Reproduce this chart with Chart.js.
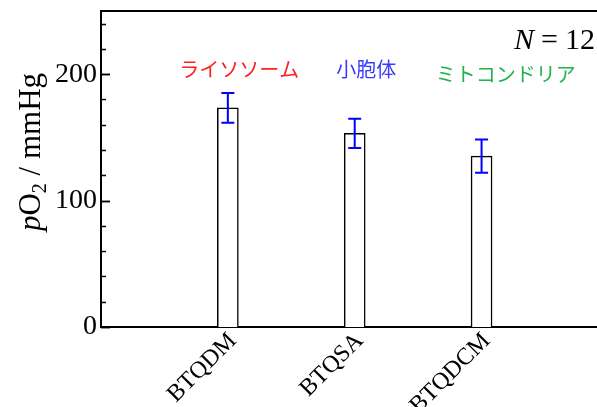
<!DOCTYPE html>
<html>
<head>
<meta charset="utf-8">
<script src="https://cdn.jsdelivr.net/npm/chart.js@4/dist/chart.umd.min.js"></script>
<style>
  html, body { margin: 0; padding: 0; background: #fff; }
  canvas { display: block; }
</style>
</head>
<body>
<canvas id="c" width="597" height="407"></canvas>
<script>
// Samples and measured oxygen partial pressure (mean ± SD)
const categories = ['BTQDM', 'BTQSA', 'BTQDCM'];
const values = [173.4, 153.2, 135.2];
const errors = [11.8, 11.6, 13.2];
const yTickLabels = [0, 100, 200];

// Organelle annotations, placed in data coordinates
const notes = [
  { text: 'ライソソーム', color: '#ff2020', x: 1.09, y: 203.5 },
  { text: '小胞体', color: '#3a3aff', x: 2.09, y: 203.5 },
  { text: 'ミトコンドリア', color: '#22b24c', x: 3.19, y: 199.5 }
];

const SERIF = '"Liberation Serif", "Times New Roman", serif';
const CJK = '"Noto Sans CJK JP", "Noto Sans CJK SC", sans-serif';

function drawRuns(ctx, runs, x, y) {
  let cx = x;
  for (const r of runs) {
    ctx.font = r.font;
    ctx.fillText(r.t, cx, y + (r.dy || 0));
    cx += ctx.measureText(r.t).width + (r.gap || 0);
  }
}
function runsWidth(ctx, runs) {
  let w = 0;
  for (const r of runs) { ctx.font = r.font; w += ctx.measureText(r.t).width + (r.gap || 0); }
  return w;
}
function noPad(s) {
  s.paddingTop = 0; s.paddingBottom = 0; s.paddingLeft = 0; s.paddingRight = 0;
}

const decorations = {
  id: 'decorations',
  afterDatasetsDraw(chart) {
    const { ctx, chartArea: a, scales: { x, y } } = chart;
    ctx.save();

    // top frame line
    ctx.strokeStyle = '#000';
    ctx.lineWidth = 2;
    ctx.beginPath();
    ctx.moveTo(a.left, a.top);
    ctx.lineTo(a.right, a.top);
    ctx.stroke();

    // inward y tick marks: major every 100, minor every 20
    ctx.lineWidth = 1.5;
    for (let v = 0; v < 250; v += 20) {
      const len = v % 100 === 0 ? 9 : 5;
      const py = Math.round(y.getPixelForValue(v)) + 0.5;
      ctx.beginPath();
      ctx.moveTo(a.left, py);
      ctx.lineTo(a.left + len, py);
      ctx.stroke();
    }
    for (const v of yTickLabels) {
      const py = Math.round(y.getPixelForValue(v)) + 0.5;
      ctx.beginPath();
      ctx.moveTo(a.left, py);
      ctx.lineTo(a.left + 9, py);
      ctx.stroke();
    }

    // error bars
    ctx.strokeStyle = '#0000ff';
    ctx.lineWidth = 2;
    values.forEach((v, i) => {
      const px = x.getPixelForValue(i + 1);
      const top = y.getPixelForValue(v + errors[i]);
      const bot = y.getPixelForValue(v - errors[i]);
      ctx.beginPath();
      ctx.moveTo(px, top); ctx.lineTo(px, bot);
      ctx.moveTo(px - 6.5, top); ctx.lineTo(px + 6.5, top);
      ctx.moveTo(px - 6.5, bot); ctx.lineTo(px + 6.5, bot);
      ctx.stroke();
    });

    // organelle labels
    ctx.textAlign = 'center';
    ctx.textBaseline = 'middle';
    ctx.font = '20px ' + CJK;
    for (const n of notes) {
      ctx.fillStyle = n.color;
      ctx.fillText(n.text, x.getPixelForValue(n.x), y.getPixelForValue(n.y));
    }

    // sample count
    ctx.fillStyle = '#000';
    ctx.textAlign = 'left';
    ctx.textBaseline = 'alphabetic';
    drawRuns(ctx, [
      { t: 'N', font: 'italic 30px ' + SERIF, gap: 7 },
      { t: '=', font: '30px ' + SERIF, gap: 7 },
      { t: '12', font: '30px ' + SERIF }
    ], 514, 49);

    // y axis title: pO2 / mmHg
    const title = [
      { t: 'p', font: 'italic 31px ' + SERIF },
      { t: 'O', font: '31px ' + SERIF },
      { t: '2', font: '20px ' + SERIF, dy: 6 },
      { t: ' / mmHg', font: '31px ' + SERIF }
    ];
    ctx.translate(40, 152);
    ctx.rotate(-Math.PI / 2);
    const w = runsWidth(ctx, title);
    drawRuns(ctx, title, -w / 2, 0);

    ctx.restore();
  }
};

new Chart(document.getElementById('c'), {
  type: 'bar',
  data: {
    datasets: [{
      data: categories.map((c, i) => ({ x: i + 1, y: values[i] })),
      backgroundColor: '#ffffff',
      borderColor: '#000000',
      borderWidth: 1.5,
      barThickness: 21
    }]
  },
  options: {
    responsive: false,
    animation: false,
    layout: { padding: { top: 11, right: 0, left: 0, bottom: 0 } },
    plugins: { legend: { display: false }, tooltip: { enabled: false } },
    scales: {
      x: {
        type: 'linear',
        offset: false,
        min: 0,
        max: 3.91,
        grid: { display: false, drawTicks: false, offset: false },
        border: { color: '#000', width: 2 },
        afterBuildTicks: s => { s.ticks = categories.map((c, i) => ({ value: i + 1 })); },
        afterFit: s => { s.height = 80; noPad(s); },
        ticks: {
          autoSkip: false,
          minRotation: 45,
          maxRotation: 45,
          padding: 0,
          labelOffset: 5,
          color: '#000',
          font: { family: SERIF, size: 24 },
          callback: v => categories[v - 1] ?? ''
        }
      },
      y: {
        min: 0,
        max: 250,
        grid: { display: false, drawTicks: false },
        border: { color: '#000', width: 2 },
        afterBuildTicks: s => { s.ticks = yTickLabels.map(v => ({ value: v })); },
        afterFit: s => { s.width = 101; noPad(s); },
        ticks: {
          padding: 4,
          color: '#000',
          font: { family: SERIF, size: 28 }
        }
      }
    }
  },
  plugins: [decorations]
});
</script>
</body>
</html>
